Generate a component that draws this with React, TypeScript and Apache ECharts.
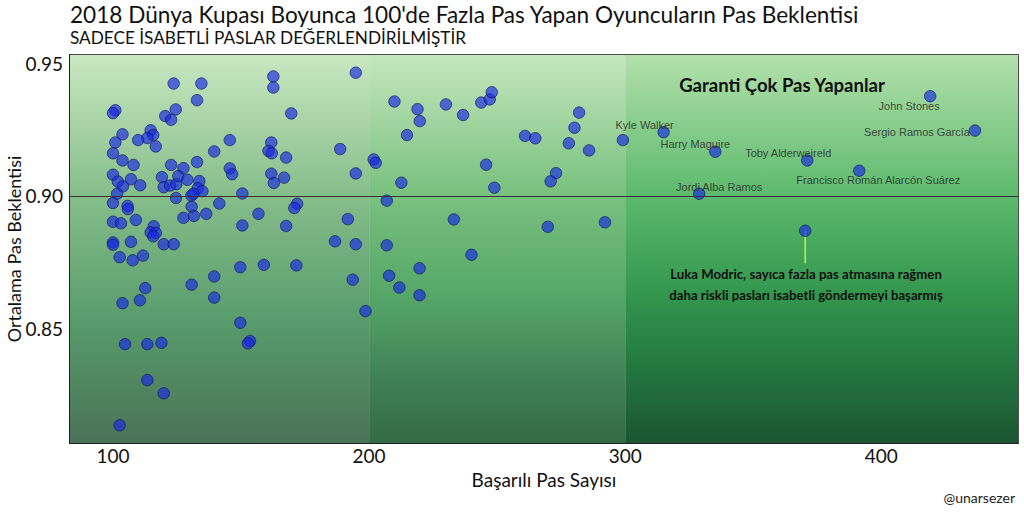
import React, { useEffect, useRef } from "react";
import * as echarts from "echarts";

// Successful passes (x) and expected pass accuracy (y) for unlabeled players
const PASSES = [
  194.8, 162.6, 162.6, 123.7, 134.5, 132.8, 124.5, 100.9, 100.0, 120.4,
  122.7, 169.6, 103.7, 114.7, 115.7, 113.4, 109.8, 100.9, 116.7, 145.6,
  161.8, 160.7, 162.0, 167.6, 188.7, 139.5, 100.0, 103.7, 108.0, 122.7,
  127.5, 132.8, 145.6, 146.5, 201.8, 202.6, 100.0, 101.9, 103.9, 107.0,
  110.6, 119.1, 119.8, 122.3, 124.7, 125.5, 129.0, 133.7, 133.1, 134.9,
  130.6, 131.4, 161.8, 162.8, 166.8, 194.8, 101.6, 100.0, 105.7, 105.8,
  124.6, 150.5, 141.5, 130.7, 127.5, 131.6, 136.4, 156.8, 171.9, 170.8,
  150.5, 167.6, 191.7, 100.0, 103.1, 108.9, 115.9, 114.7, 116.7, 115.7,
  100.0, 100.0, 107.0, 119.8, 123.7, 186.7, 194.8, 102.6, 107.7, 111.7,
  149.7, 158.9, 171.6, 139.5, 130.7, 193.6, 112.6, 139.5, 103.7, 110.5,
  198.6, 149.7, 153.5, 152.7, 104.7, 113.4, 118.9, 113.4, 119.8, 102.6,
  209.9, 218.9, 219.8, 230.0, 236.7, 243.8, 247.1, 247.9, 214.8, 260.9,
  264.9, 282.0, 280.2, 278.0, 285.9, 299.1, 212.6, 245.7, 248.9, 273.0,
  270.9, 206.9, 233.1, 269.8, 292.1, 206.9, 240.0, 219.7, 207.8, 211.8,
  219.7,
];
const XP = [
  0.9466, 0.9452, 0.941, 0.9425, 0.9425, 0.9362, 0.9327, 0.9324, 0.9313, 0.9302,
  0.9288, 0.9312, 0.9233, 0.9248, 0.923, 0.9219, 0.9211, 0.9202, 0.9187, 0.9211,
  0.9202, 0.917, 0.9161, 0.9145, 0.9177, 0.9168, 0.9161, 0.9134, 0.9117, 0.9117,
  0.9105, 0.9128, 0.9104, 0.9082, 0.9138, 0.9125, 0.908, 0.9054, 0.9036, 0.9063,
  0.904, 0.9071, 0.9033, 0.9039, 0.9044, 0.9075, 0.9061, 0.9056, 0.9029, 0.9018,
  0.9001, 0.9008, 0.9084, 0.9049, 0.9069, 0.9085, 0.9008, 0.8973, 0.8962, 0.895,
  0.8992, 0.9009, 0.8971, 0.8959, 0.8917, 0.8924, 0.8932, 0.8932, 0.897, 0.8954,
  0.8888, 0.8886, 0.8912, 0.8902, 0.8896, 0.8909, 0.8885, 0.8862, 0.886, 0.8847,
  0.8824, 0.8815, 0.8826, 0.8817, 0.8817, 0.8828, 0.8817, 0.8768, 0.8756, 0.8774,
  0.873, 0.8739, 0.8737, 0.8695, 0.8664, 0.8683, 0.8651, 0.8615, 0.8594, 0.8605,
  0.8564, 0.852, 0.8451, 0.8442, 0.8439, 0.8439, 0.8444, 0.8303, 0.8253, 0.8132,
  0.9357, 0.9328, 0.9283, 0.9346, 0.9306, 0.9353, 0.9365, 0.9392, 0.923, 0.9227,
  0.9218, 0.9315, 0.9258, 0.9199, 0.9172, 0.9211, 0.905, 0.9118, 0.9031, 0.9086,
  0.9055, 0.8982, 0.8911, 0.8883, 0.89, 0.8813, 0.8777, 0.8726, 0.8698, 0.8653,
  0.8624,
];

// Labeled players
const NAMED_PLAYERS = [
  "John Stones",
  "Sergio Ramos García",
  "Kyle Walker",
  "Harry Maguire",
  "Toby Alderweireld",
  "Francisco Román Alarcón Suárez",
  "Jordi Alba Ramos",
  "Luka Modric",
];
const NAMED_PASSES = [419.1, 436.6, 315.0, 335.2, 371.1, 391.4, 328.9, 370.3];
const NAMED_XP = [0.9377, 0.9247, 0.9241, 0.9167, 0.9134, 0.9095, 0.9008, 0.8868];

const X_TICKS = [100, 200, 300, 400];
const Y_TICKS = [0.85, 0.9, 0.95];
const ZONE_EDGES = [200, 300];
const REFERENCE_XP = 0.9;
const MODRIC_LINE_END = 0.8745;

const TITLE = "2018 Dünya Kupası Boyunca 100'de Fazla Pas Yapan Oyuncuların Pas Beklentisi";
const SUBTITLE = "SADECE İSABETLİ PASLAR DEĞERLENDİRİLMİŞTİR";
const X_NAME = "Başarılı Pas Sayısı";
const Y_NAME = "Ortalama Pas Beklentisi";
const NOTE_TOP = "Garanti Çok Pas Yapanlar";
const NOTE_MODRIC = "Luka Modric, sayıca fazla pas atmasına rağmen\ndaha riskli pasları isabetli göndermeyi başarmış";
const CREDIT = "@unarsezer";

// label offsets (styling, relative to dot centre)
const LABEL_OFFSETS: (number[] | null)[] = [
  [-21, 10],
  [-58, 1],
  [-19, -7],
  [-20, -8],
  [-19, -7],
  [19, 9],
  [20, -7],
  null,
];

const FONT = "Lato, 'Open Sans', sans-serif";

function grad(stops: [number, string][]) {
  return new echarts.graphic.LinearGradient(
    0, 0, 0, 1,
    stops.map(([offset, color]) => ({ offset, color }))
  );
}

export default function App() {
  const ref = useRef<HTMLDivElement>(null);
  useEffect(() => {
    document.body.style.margin = "0";
    const chart = echarts.init(ref.current!, null, { renderer: "svg" });

    const points = PASSES.map((x, i) => [x, XP[i]]);
    const named = NAMED_PASSES.map((x, i) => {
      const off = LABEL_OFFSETS[i];
      return {
        value: [x, NAMED_XP[i]],
        name: NAMED_PLAYERS[i],
        label: off ? { show: true, offset: off } : { show: false },
      };
    });

    const dotStyle = {
      color: "rgba(22, 40, 226, 0.82)",
      borderColor: "#141460",
      borderWidth: 0.8,
    };

    const option: any = {
      animation: false,
      backgroundColor: "#ffffff",
      grid: {
        left: 70,
        right: 6,
        top: 55,
        bottom: 70,
        outerBoundsMode: "none",
        containLabel: false,
        show: true,
        borderColor: "#111",
        borderWidth: 1.5,
        backgroundColor: "transparent",
      },
      xAxis: {
        type: "value",
        min: 83.2,
        max: 453.4,
        splitLine: { show: false },
        axisTick: { show: false },
        axisLine: { show: true, lineStyle: { color: "#111", width: 1.5 } },
        axisLabel: {
          customValues: X_TICKS,
          color: "#111",
          fontFamily: FONT,
          fontSize: 19,
          margin: 3,
        },
        name: X_NAME,
        nameLocation: "middle",
        nameGap: 26,
        nameTextStyle: { color: "#111", fontFamily: FONT, fontSize: 19 },
      },
      yAxis: {
        type: "value",
        min: 0.8065,
        max: 0.9533,
        splitLine: { show: false },
        axisTick: { show: false },
        axisLine: { show: true, lineStyle: { color: "#111", width: 1.5 } },
        axisLabel: {
          customValues: Y_TICKS,
          formatter: (v: number) => v.toFixed(2),
          color: "#111",
          fontFamily: FONT,
          fontSize: 19,
          margin: 7,
        },
      },
      series: [
        {
          type: "scatter",
          data: [],
          silent: true,
          z: 1,
          markArea: {
            silent: true,
            data: [
              [
                {
                  xAxis: "min",
                  itemStyle: {
                    color: grad([
                      [0, "#c8e7c1"],
                      [0.36, "#86be8b"],
                      [0.7, "#579a6b"],
                      [1, "#4a7257"],
                    ]),
                  },
                },
                { xAxis: ZONE_EDGES[0] },
              ],
              [
                {
                  xAxis: ZONE_EDGES[0],
                  itemStyle: {
                    color: grad([
                      [0, "#c4e6bd"],
                      [0.36, "#79c17f"],
                      [0.62, "#55a768"],
                      [0.85, "#3f7e55"],
                      [1, "#336a47"],
                    ]),
                  },
                },
                { xAxis: ZONE_EDGES[1] },
              ],
              [
                {
                  xAxis: ZONE_EDGES[1],
                  itemStyle: {
                    color: grad([
                      [0, "#b3e0ab"],
                      [0.36, "#5dba6e"],
                      [0.6, "#35994f"],
                      [0.8, "#237840"],
                      [1, "#1b5532"],
                    ]),
                  },
                },
                { xAxis: "max" },
              ],
            ],
          },
          markLine: {
            silent: true,
            symbol: "none",
            label: { show: false },
            lineStyle: { color: "#333", width: 1, type: "solid" },
            data: [{ yAxis: REFERENCE_XP }],
          },
        },
        {
          type: "line",
          data: [
            [NAMED_PASSES[7], NAMED_XP[7]],
            [NAMED_PASSES[7], MODRIC_LINE_END],
          ],
          symbol: "none",
          silent: true,
          lineStyle: { color: "#c2f052", width: 1.5 },
          z: 2,
        },
        {
          type: "scatter",
          data: points,
          symbolSize: 11.5,
          itemStyle: dotStyle,
          z: 3,
        },
        {
          type: "scatter",
          data: named,
          symbolSize: 11.5,
          itemStyle: dotStyle,
          z: 4,
          label: {
            show: true,
            position: "inside",
            formatter: (p: any) => p.name,
            color: "#222",
            fontFamily: "'Liberation Sans', Arial, sans-serif",
            fontSize: 11,
          },
        },
      ],
      graphic: [
        {
          type: "text",
          left: 70,
          top: 3,
          z: 100,
          style: { text: TITLE, fill: "#111", font: `22.6px ${FONT}` },
        },
        {
          type: "text",
          left: 70,
          top: 29,
          z: 100,
          style: { text: SUBTITLE, fill: "#111", font: `17.2px ${FONT}` },
        },
        {
          type: "text",
          x: 14,
          y: 249,
          rotation: Math.PI / 2,
          z: 100,
          style: {
            text: Y_NAME,
            fill: "#111",
            font: `18px ${FONT}`,
            align: "center",
            verticalAlign: "middle",
          },
        },
        {
          type: "text",
          x: 782,
          y: 85,
          z: 100,
          style: {
            text: NOTE_TOP,
            fill: "#111",
            font: `bold 18.5px ${FONT}`,
            align: "center",
            verticalAlign: "middle",
          },
        },
        {
          type: "text",
          x: 806,
          y: 284.5,
          z: 100,
          style: {
            text: NOTE_MODRIC,
            fill: "#111",
            font: `bold 13.2px ${FONT}`,
            align: "center",
            verticalAlign: "middle",
            lineHeight: 21,
          },
        },
        {
          type: "text",
          right: 9,
          top: 490,
          z: 100,
          style: { text: CREDIT, fill: "#222", font: `14px ${FONT}` },
        },
      ],
    };

    chart.setOption(option);
    return () => chart.dispose();
  }, []);
  return <div ref={ref} style={{ width: 1024, height: 513 }} />;
}
